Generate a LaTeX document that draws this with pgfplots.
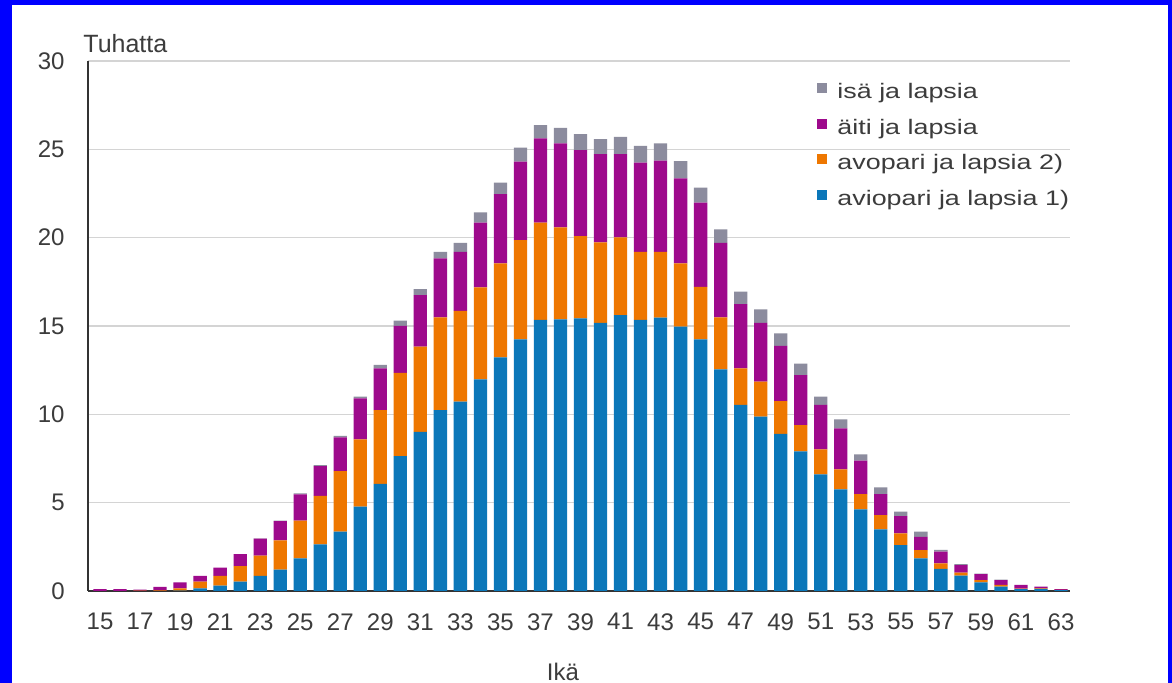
\documentclass[border=0pt]{standalone}
\usepackage{pgfplots}
\pgfplotsset{compat=1.18}
\usepackage{pgfplotstable}
\usepackage{fontspec}
\setmainfont{Liberation Sans}
\newfontfamily\legfont{Liberation Sans}[FakeStretch=1.28]
\definecolor{cblue}{HTML}{0B77B9}
\definecolor{corange}{HTML}{EE7700}
\definecolor{cmag}{HTML}{9E0A8C}
\definecolor{cgrey}{HTML}{8C8C9E}
\definecolor{ctext}{HTML}{3C3C3C}

\pgfplotstableread{
age blue orange mag grey
15 0.00 0.00 0.10 0.00
16 0.00 0.00 0.10 0.00
17 0.00 0.02 0.06 0.00
18 0.00 0.03 0.20 0.00
19 0.02 0.13 0.34 0.00
20 0.15 0.38 0.32 0.00
21 0.30 0.55 0.47 0.00
22 0.53 0.88 0.68 0.00
23 0.85 1.15 0.96 0.02
24 1.21 1.66 1.09 0.03
25 1.85 2.13 1.49 0.05
26 2.64 2.74 1.69 0.05
27 3.36 3.43 1.91 0.08
28 4.77 3.81 2.32 0.10
29 6.06 4.18 2.36 0.20
30 7.64 4.71 2.65 0.30
31 9.00 4.83 2.92 0.34
32 10.24 5.25 3.34 0.37
33 10.72 5.14 3.34 0.51
34 11.98 5.21 3.66 0.58
35 13.23 5.32 3.92 0.64
36 14.24 5.62 4.44 0.79
37 15.34 5.51 4.77 0.75
38 15.38 5.20 4.76 0.88
39 15.43 4.66 4.87 0.90
40 15.18 4.55 5.00 0.85
41 15.62 4.39 4.72 0.98
42 15.34 3.86 5.04 0.96
43 15.47 3.73 5.16 0.98
44 14.96 3.59 4.81 0.97
45 14.24 2.98 4.76 0.85
46 12.55 2.94 4.22 0.76
47 10.53 2.07 3.64 0.70
48 9.87 1.98 3.33 0.76
49 8.90 1.85 3.13 0.70
50 7.90 1.49 2.83 0.65
51 6.60 1.42 2.51 0.47
52 5.75 1.14 2.32 0.50
53 4.62 0.87 1.89 0.36
54 3.49 0.81 1.19 0.38
55 2.60 0.66 0.98 0.25
56 1.85 0.47 0.75 0.29
57 1.25 0.32 0.66 0.10
58 0.87 0.17 0.43 0.05
59 0.49 0.13 0.34 0.03
60 0.25 0.09 0.28 0.02
61 0.10 0.04 0.20 0.00
62 0.12 0.03 0.10 0.00
63 0.05 0.01 0.05 0.00
}\data

\begin{document}
\begin{tikzpicture}
\fill[blue] (-44pt,-46pt) rectangle (542pt,295.5pt);
\fill[white] (-38pt,-46pt) rectangle (540pt,293pt);
\begin{axis}[
  at={(0,0)}, anchor=south west,
  scale only axis, width=491pt, height=265pt,
  xmin=14.4, xmax=63.45, ymin=0, ymax=30,
  ybar stacked, bar width=6.65pt,
  axis x line=bottom, axis y line=left,
  axis line style={-, draw=black!80, line width=1pt},
  xtick={15,17,...,63}, ytick={0,5,...,30},
  major tick length=0pt,
  ymajorgrids, grid style={draw=black!17, line width=0.8pt},
  /pgf/number format/assume math mode=true,
  ticklabel style={font=\fontsize{12}{14}\selectfont, text=ctext},
  xticklabel style={anchor=north, inner sep=0pt, yshift=-11pt},
  yticklabel style={anchor=east, inner sep=0pt, xshift=-11.5pt},
  clip=false,
  legend image code/.code={\fill[#1] (0pt,0pt) rectangle (5pt,5pt);},
  reverse legend,
  legend cell align=left,
  legend style={at={(rel axis cs:0.7424,0.9642)}, anchor=north west,
    draw=none, fill=none, inner sep=0pt,
    font=\legfont\fontsize{10.5}{12}\selectfont, text=ctext,
    row sep=5.4pt,
    nodes={inner sep=1pt, text height=8pt, text depth=2.5pt},
    /tikz/every odd column/.append style={column sep=4pt}},
]
\addplot[fill=cblue, draw=none] table[x=age,y=blue]{\data};
\addlegendentry{aviopari ja lapsia 1)}
\addplot[fill=corange, draw=none] table[x=age,y=orange]{\data};
\addlegendentry{avopari ja lapsia 2)}
\addplot[fill=cmag, draw=none] table[x=age,y=mag]{\data};
\addlegendentry{äiti ja lapsia}
\addplot[fill=cgrey, draw=none] table[x=age,y=grey]{\data};
\addlegendentry{isä ja lapsia}
\node[anchor=base west, inner sep=0pt, text=ctext, font=\fontsize{12.5}{14}\selectfont] at (rel axis cs:0,1) [xshift=-2.5pt, yshift=4pt] {Tuhatta};
\node[anchor=base, inner sep=0pt, text=ctext, font=\fontsize{12}{14}\selectfont] at (rel axis cs:0.4837,0) [yshift=-45pt] {Ikä};
\end{axis}
\pgfresetboundingbox
\useasboundingbox (-44pt,-46pt) rectangle (542pt,295.5pt);
\end{tikzpicture}
\end{document}
